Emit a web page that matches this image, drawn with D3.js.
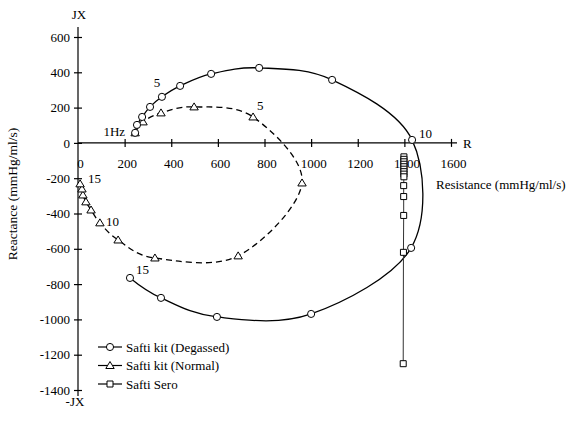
<!DOCTYPE html>
<html lang="en">
<head>
  <meta charset="UTF-8">
  <title>Impedance plot</title>
  <style>
    body { margin: 0; background: #fff; }
    svg text { font-family: 'Liberation Serif', 'Times New Roman', serif !important; fill: #000; }
  </style>
</head>
<body>
  <script src="https://d3js.org/d3.v7.min.js"></script>
  <script>
    // Data (R = resistance, X = reactance), 1..15 Hz
    let degassedR = [245, 253, 275, 309, 360, 438, 571, 777, 1090, 1433, 1429, 1000, 596, 356, 223];
    let degassedX = [57, 102, 147, 204, 261, 323, 391, 425, 357, 17, -595, -969, -986, -878, -765];

    let normalR = [245, 279, 356, 498, 751, 961, 687, 330, 172, 94, 56, 34, 21, 17, 9];
    let normalX = [57, 119, 170, 204, 147, -227, -640, -652, -550, -453, -380, -334, -295, -261, -232];

    let seroR = [1398, 1398, 1398, 1398, 1398, 1398, 1398, 1398, 1398, 1397, 1397, 1397, 1396, 1395];
    let seroX = [-79, -93, -107, -121, -135, -149, -163, -177, -192, -242, -304, -411, -620, -1251];

    let xTicks = [0, 200, 400, 600, 800, 1000, 1200, 1400, 1600];
    let yTicks = [600, 400, 200, 0, -200, -400, -600, -800, -1000, -1200, -1400];

    let seriesNames = ["Safti kit (Degassed)", "Safti kit (Normal)", "Safti Sero"];

    let svgWidth = 575;
    let svgHeight = 421;

    let svg = d3.select("body")
      .append("svg")
      .attr("width", svgWidth)
      .attr("height", svgHeight);

    // scales: origin of the axes sits at (78, 143)
    let x = d3.scaleLinear().domain([0, 1600]).range([78, 451]);
    let y = d3.scaleLinear().domain([600, -1400]).range([37, 390]);

    let fmt = d => d < 0 ? "-" + Math.abs(d) : String(d);

    // axes lines
    svg.append("line")
      .attr("x1", x(0)).attr("x2", x(0))
      .attr("y1", 27).attr("y2", 396)
      .attr("stroke", "#000").attr("stroke-width", 1.2);

    svg.append("line")
      .attr("x1", x(0)).attr("x2", 457)
      .attr("y1", y(0)).attr("y2", y(0))
      .attr("stroke", "#000").attr("stroke-width", 1.2);

    // x ticks cross the axis
    let xAxis = d3.axisBottom(x).tickValues(xTicks).tickSize(0).tickFormat(fmt);
    let gx = svg.append("g").attr("transform", `translate(0, ${y(0)})`).call(xAxis);
    gx.attr("font-family", null);
    gx.select(".domain").remove();
    gx.selectAll("text")
      .attr("dy", 0).attr("y", 25)
      .attr("dx", 2)
      .style("font-size", "13px");
    gx.selectAll(".tick").filter(d => d !== 0).append("line")
      .attr("y1", -4).attr("y2", 4)
      .attr("stroke", "#000").attr("stroke-width", 1.2);

    let yAxis = d3.axisLeft(y).tickValues(yTicks).tickSize(0).tickFormat(fmt);
    let gy = svg.append("g").attr("transform", `translate(${x(0)}, 0)`).call(yAxis);
    gy.attr("font-family", null);
    gy.select(".domain").remove();
    gy.selectAll("text")
      .attr("x", -8)
      .style("font-size", "13px");
    gy.selectAll(".tick").append("line")
      .attr("x1", -4).attr("x2", 4)
      .attr("stroke", "#000").attr("stroke-width", 1.2);

    // axis labels
    svg.append("text").attr("x", 79).attr("y", 19)
      .attr("text-anchor", "middle").style("font-size", "13px").text("JX");
    svg.append("text").attr("x", 75).attr("y", 406)
      .attr("text-anchor", "middle").style("font-size", "13px").text("-JX");
    svg.append("text").attr("x", 463).attr("y", 148)
      .style("font-size", "13px").text("R");
    svg.append("text").attr("x", 436).attr("y", 189)
      .style("font-size", "13px").text("Resistance (mmHg/ml/s)");
    svg.append("text")
      .attr("transform", "translate(17, 194) rotate(-90)")
      .attr("text-anchor", "middle")
      .style("font-size", "13.5px")
      .text("Reactance (mmHg/ml/s)");

    let pts = (rs, xs) => rs.map((r, i) => [x(r), y(xs[i])]);
    let degassed = pts(degassedR, degassedX);
    let normal = pts(normalR, normalX);
    let sero = pts(seroR, seroX);

    let smooth = d3.line().curve(d3.curveCatmullRom.alpha(0));

    // lines
    svg.append("path").attr("d", smooth(degassed))
      .attr("fill", "none").attr("stroke", "#000").attr("stroke-width", 1.3);
    svg.append("path").attr("d", smooth(normal))
      .attr("fill", "none").attr("stroke", "#000").attr("stroke-width", 1.3)
      .attr("stroke-dasharray", "6,4");
    svg.append("path").attr("d", d3.line()(sero))
      .attr("fill", "none").attr("stroke", "#333").attr("stroke-width", 1);

    // markers
    let circle = d3.symbol().type(d3.symbolCircle).size(40);
    let triangle = "M0,-4L4.2,3L-4.2,3Z";
    let square = "M-3,-3H3V3H-3Z";

    function drawMarkers(data, path) {
      svg.append("g").selectAll("path")
        .data(data)
        .enter()
        .append("path")
        .attr("transform", d => `translate(${d[0]}, ${d[1]})`)
        .attr("d", path)
        .attr("fill", "#fff")
        .attr("stroke", "#000")
        .attr("stroke-width", 1);
    }
    drawMarkers(sero, square);
    drawMarkers(normal, triangle);
    drawMarkers(degassed, circle());

    // frequency labels
    function label(p, text, dx, dy, anchor) {
      svg.append("text")
        .attr("x", p[0] + dx).attr("y", p[1] + dy)
        .attr("text-anchor", anchor || "start")
        .style("font-size", "13px")
        .text(text);
    }
    label(normal[0], "1Hz", -10, 3, "end");
    label(degassed[4], "5", -5, -10, "middle");
    label(degassed[9], "10", 7, -2);
    label(degassed[14], "15", 6, -4);
    label(normal[4], "5", 4, -7);
    label(normal[9], "10", 6, 3);
    label(normal[14], "15", 8, -1);

    // legend
    let legendPaths = [circle(), triangle, square];
    let legend = svg.append("g").selectAll("g")
      .data(seriesNames)
      .enter()
      .append("g")
      .attr("transform", (d, i) => `translate(98, ${347 + i * 18.5})`);

    legend.append("line")
      .attr("x1", 0).attr("x2", 24)
      .attr("stroke", "#000").attr("stroke-width", 1.2);
    legend.append("path")
      .attr("transform", "translate(12, 0)")
      .attr("d", (d, i) => legendPaths[i])
      .attr("fill", "#fff").attr("stroke", "#000");
    legend.append("text")
      .attr("x", 28).attr("y", 4.5)
      .style("font-size", "13px")
      .text(d => d);
  </script>
</body>
</html>
